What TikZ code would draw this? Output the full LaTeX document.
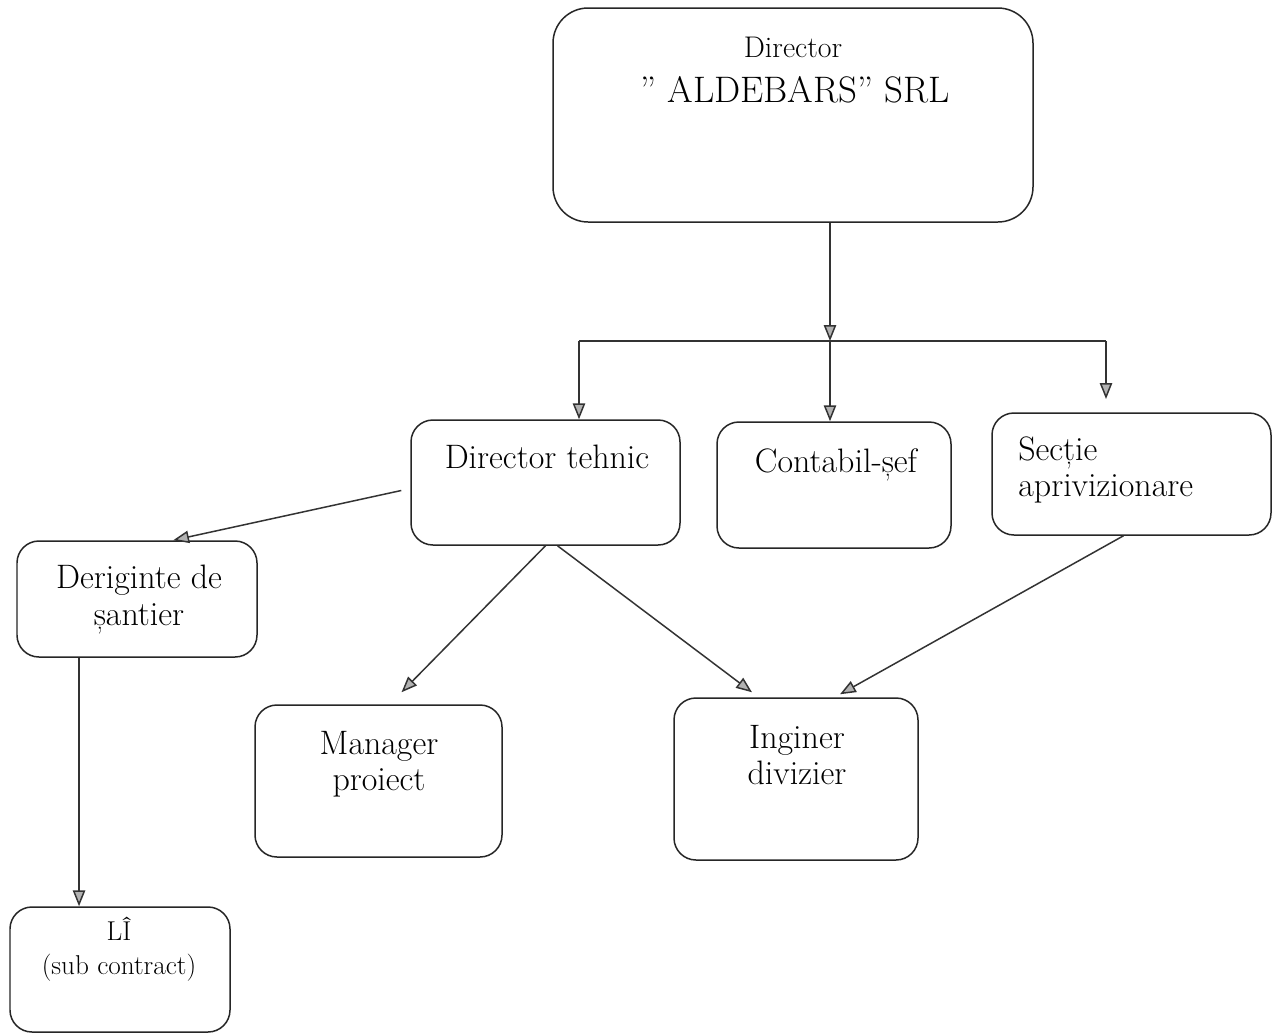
\documentclass[tikz,border=0pt]{standalone}
\usepackage{fontspec}
\usetikzlibrary{arrows.meta,fit,calc}
\begin{document}
\begin{tikzpicture}[x=0.02cm,y=-0.02cm,
  box/.style={draw=black!85, line width=0.85pt, rounded corners=12.5pt, inner sep=0pt},
  arr/.style={draw=black!80, line width=0.85pt, -{Triangle[length=9pt,width=7pt,fill=gray!60]}},
  ln/.style={draw=black!80, line width=0.85pt},
  txt/.style={font=\fontsize{19.3}{20.6}\selectfont, align=center, inner sep=0pt},
  smalltxt/.style={font=\fontsize{15.5}{19.3}\selectfont, align=center, inner sep=0pt},
]
\useasboundingbox[fill=white] (0,0) rectangle (1274,1035);

% boxes
\node[box, rounded corners=20pt, fit={(553,8) (1033,222)}] (dir) {};
\node[box, fit={(411,420) (680,545)}] (dt) {};
\node[box, fit={(717,422) (951,548)}] (cs) {};
\node[box, fit={(992,413) (1271,535)}] (sec) {};
\node[box, fit={(17,541) (257,657)}] (der) {};
\node[box, fit={(255,705) (502,857)}] (man) {};
\node[box, fit={(674,698) (918,860)}] (ing) {};
\node[box, fit={(10,907) (230,1032)}] (li) {};

% texts
\node[font=\fontsize{17}{20}\selectfont, inner sep=0pt] (dira) at (793,47) {Director};
\node[font=\fontsize{21}{24}\selectfont, inner sep=0pt] (dirb) at (795,90) {” ALDEBARS” SRL};
\node[txt] (dtt) at (547,457) {Director tehnic};
\node[txt] (cst) at (836,465) {Contabil-șef};
\node[txt, align=left, anchor=north west] (sect) at (1018,436) {Secție\\aprivizionare};
\node[txt, anchor=north] (dert) at (139,565) {Deriginte de\\șantier};
\node[txt, anchor=north] (mant) at (379,731) {Manager\\proiect};
\node[txt, anchor=north] (ingt) at (797,725) {Inginer\\divizier};
\node[smalltxt, anchor=north] (lit) at (119,917) {LÎ\\(sub contract)};

% connectors
\coordinate (j) at (830,341);
\coordinate (bl) at (579,341);
\coordinate (br) at (1106,341);
\coordinate (sein) at (1106,399);
\draw[arr] (dir.south -| j) -- (j);
\draw[ln] (bl) -- (br);
\draw[arr] (bl) -- (bl |- dt.north);
\draw[arr] (j) -- (j |- cs.north);
\draw[arr] (br) -- (sein);

\draw[arr] ([shift={(-9,8)}]dt.west) -- ($(der.north west)!0.65!(der.north east)$);
\draw[arr] (dt.south) -- ($(man.north)+(23,-12)$);
\draw[arr] ($(dt.south)+(12,0)$) -- ($(ing.north)+(-44,-5)$);
\draw[arr] ($(sec.south)+(-8,0)$) -- ($(ing.north)+(44,-3)$);
\coordinate (dl) at ($(der.south west)!0.26!(der.south east)$);
\draw[arr] (dl) -- (dl |- li.north);
\end{tikzpicture}
\end{document}
